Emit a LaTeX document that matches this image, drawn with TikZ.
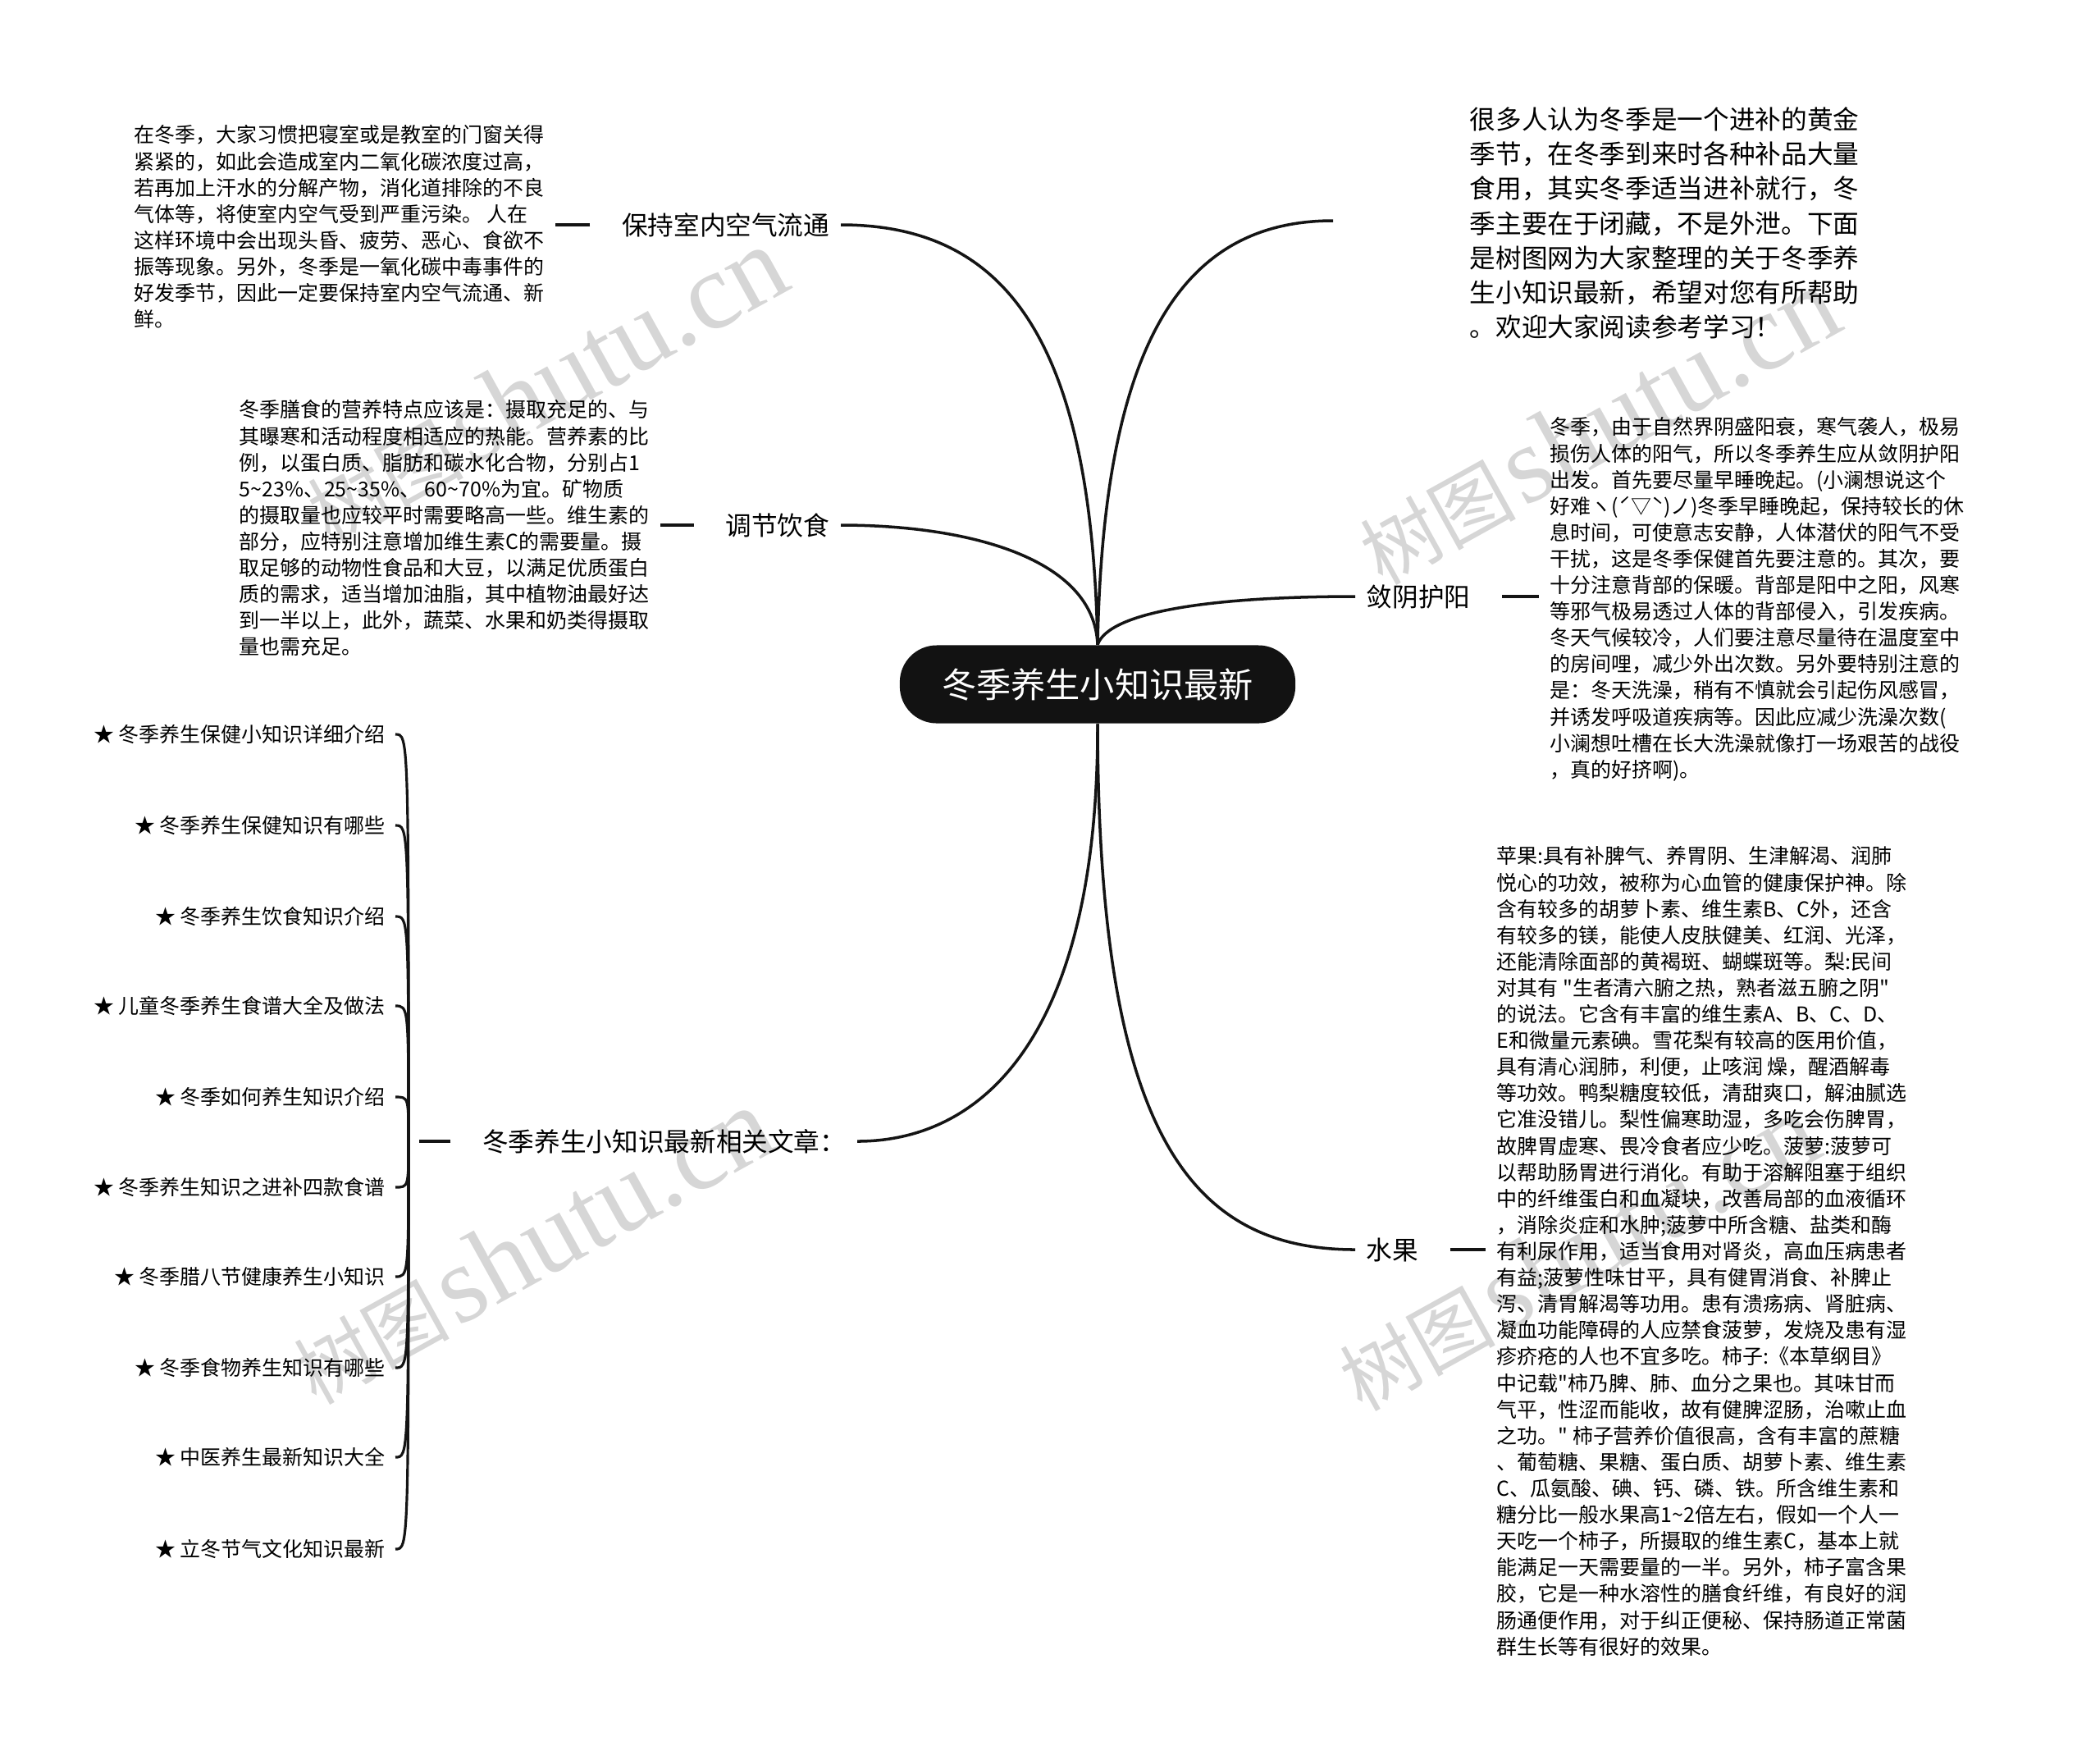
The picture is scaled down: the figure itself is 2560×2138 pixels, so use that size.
\documentclass[tikz,border=0pt]{standalone}
\usepackage{fontspec}
\setmainfont{Noto Sans CJK SC}
\newfontfamily\markfont{Liberation Serif}
\colorlet{branch line}{black!92}
\colorlet{root fill}{black!93}
\colorlet{mark gray}{black!16}
\def\notesize{\fontsize{7.1}{9.13}\selectfont}
\def\wmtext{{\fontsize{27}{27}\selectfont 树图} {\markfont\fontsize{38}{38}\selectfont shutu.cn}}
\tikzset{rootbox/.style={fill=root fill, text=white, rounded corners=0.45cm,
        minimum width=4.82cm, minimum height=0.95cm, inner sep=0pt,
        font=\fontsize{12}{14}\selectfont},
    topic/.style={inner xsep=0.13cm, inner ysep=0pt, font=\fontsize{9}{11}\selectfont},
    note/.style={anchor=north west, inner sep=0pt, align=left, font=\notesize},
    bignote/.style={anchor=north west, inner sep=0pt, align=left,
        font=\fontsize{9}{12}\selectfont},
    article/.style={anchor=east, inner xsep=0.12cm, inner ysep=0pt,
        font=\fontsize{7.1}{9}\selectfont},
    branch/.style={draw=branch line, line width=1pt},
    tie/.style={draw=branch line, line width=1pt, shorten <=0.25cm, shorten >=0.13cm},
    fan/.style={draw=branch line, line width=0.9pt},
    wmark/.style={text=mark gray, rotate=29, inner sep=0pt}}

\begin{document}
\begin{tikzpicture}[x=0.01cm, y=-0.01cm]
    \useasboundingbox (0,0) rectangle (2560,2138);
    % watermarks
    \node[wmark] (wm1) at (665,470)   {\wmtext};
    \node[wmark] (wm2) at (1948,520)  {\wmtext};
    \node[wmark] (wm3) at (648,1519)  {\wmtext};
    \node[wmark] (wm4) at (1923,1527) {\wmtext};

    \node[rootbox] (root) at (1338,834) {冬季养生小知识最新};

    \node[topic, anchor=east] (air)  at (1025,274)  {保持室内空气流通};
    \node[topic, anchor=east] (diet) at (1025,640)  {调节饮食};
    \node[topic, anchor=east] (more) at (1045,1391) {冬季养生小知识最新相关文章：};
    \node[topic, anchor=west] (yin)   at (1652,727)  {敛阴护阳};
    \node[topic, anchor=west] (fruit) at (1652,1523) {水果};
    \coordinate (introtip) at (1625,269);
    \coordinate (fanroot) at (498,1391);

    \node[note] (airtxt) at (163,152) {在冬季，大家习惯把寝室或是教室的门窗关得\\
        紧紧的，如此会造成室内二氧化碳浓度过高，\\
        若再加上汗水的分解产物，消化道排除的不良\\
        气体等，将使室内空气受到严重污染。 人在\\
        这样环境中会出现头昏、疲劳、恶心、食欲不\\
        振等现象。另外，冬季是一氧化碳中毒事件的\\
        好发季节，因此一定要保持室内空气流通、新\\
        鲜。};
    \node[note] (diettxt) at (291,487) {冬季膳食的营养特点应该是：摄取充足的、与\\
        其曝寒和活动程度相适应的热能。营养素的比\\
        例，以蛋白质、脂肪和碳水化合物，分别占1\\
        5\textasciitilde23\%、25\textasciitilde35\%、 60\textasciitilde70\%为宜。矿物质\\
        的摄取量也应较平时需要略高一些。维生素的\\
        部分，应特别注意增加维生素C的需要量。摄\\
        取足够的动物性食品和大豆，以满足优质蛋白\\
        质的需求，适当增加油脂，其中植物油最好达\\
        到一半以上，此外，蔬菜、水果和奶类得摄取\\
        量也需充足。};
    \node[bignote] (intro) at (1791,130) {很多人认为冬季是一个进补的黄金\\
        季节，在冬季到来时各种补品大量\\
        食用，其实冬季适当进补就行，冬\\
        季主要在于闭藏，不是外泄。下面\\
        是树图网为大家整理的关于冬季养\\
        生小知识最新，希望对您有所帮助\\
        。欢迎大家阅读参考学习！};
    \node[note] (yintxt) at (1889,508) {冬季，由于自然界阴盛阳衰，寒气袭人，极易\\
        损伤人体的阳气，所以冬季养生应从敛阴护阳\\
        出发。首先要尽量早睡晚起。(小澜想说这个\\
        好难ヽ(ˊ▽ˋ)ノ)冬季早睡晚起，保持较长的休\\
        息时间，可使意志安静，人体潜伏的阳气不受\\
        干扰，这是冬季保健首先要注意的。其次，要\\
        十分注意背部的保暖。背部是阳中之阳，风寒\\
        等邪气极易透过人体的背部侵入，引发疾病。\\
        冬天气候较冷，人们要注意尽量待在温度室中\\
        的房间哩，减少外出次数。另外要特别注意的\\
        是：冬天洗澡，稍有不慎就会引起伤风感冒，\\
        并诱发呼吸道疾病等。因此应减少洗澡次数(\\
        小澜想吐槽在长大洗澡就像打一场艰苦的战役\\
        ，真的好挤啊)。};
    \node[note] (fruittxt) at (1824,1031) {苹果:具有补脾气、养胃阴、生津解渴、润肺\\
        悦心的功效，被称为心血管的健康保护神。除\\
        含有较多的胡萝卜素、维生素B、C外，还含\\
        有较多的镁，能使人皮肤健美、红润、光泽，\\
        还能清除面部的黄褐斑、蝴蝶斑等。梨:民间\\
        对其有 \textquotedbl 生者清六腑之热，熟者滋五腑之阴\textquotedbl\\
        的说法。它含有丰富的维生素A、B、C、D、\\
        E和微量元素碘。雪花梨有较高的医用价值，\\
        具有清心润肺，利便，止咳润 燥，醒酒解毒\\
        等功效。鸭梨糖度较低，清甜爽口，解油腻选\\
        它准没错儿。梨性偏寒助湿，多吃会伤脾胃，\\
        故脾胃虚寒、畏冷食者应少吃。菠萝:菠萝可\\
        以帮助肠胃进行消化。有助于溶解阻塞于组织\\
        中的纤维蛋白和血凝块，改善局部的血液循环\\
        ，消除炎症和水肿;菠萝中所含糖、盐类和酶\\
        有利尿作用，适当食用对肾炎，高血压病患者\\
        有益;菠萝性味甘平，具有健胃消食、补脾止\\
        泻、清胃解渴等功用。患有溃疡病、肾脏病、\\
        凝血功能障碍的人应禁食菠萝，发烧及患有湿\\
        疹疥疮的人也不宜多吃。柿子:《本草纲目》\\
        中记载\textquotedbl 柿乃脾、肺、血分之果也。其味甘而\\
        气平，性涩而能收，故有健脾涩肠，治嗽止血\\
        之功。\textquotedbl\ 柿子营养价值很高，含有丰富的蔗糖\\
        、葡萄糖、果糖、蛋白质、胡萝卜素、维生素\\
        C、瓜氨酸、碘、钙、磷、铁。所含维生素和\\
        糖分比一般水果高1\textasciitilde2倍左右，假如一个人一\\
        天吃一个柿子，所摄取的维生素C，基本上就\\
        能满足一天需要量的一半。另外，柿子富含果\\
        胶，它是一种水溶性的膳食纤维，有良好的润\\
        肠通便作用，对于纠正便秘、保持肠道正常菌\\
        群生长等有很好的效果。};

    % related articles
    \node[article] (art1)  at (482,895)  {★ 冬季养生保健小知识详细介绍};
    \node[article] (art2)  at (482,1006) {★ 冬季养生保健知识有哪些};
    \node[article] (art3)  at (482,1117) {★ 冬季养生饮食知识介绍};
    \node[article] (art4)  at (482,1226) {★ 儿童冬季养生食谱大全及做法};
    \node[article] (art5)  at (482,1337) {★ 冬季如何养生知识介绍};
    \node[article] (art6)  at (482,1447) {★ 冬季养生知识之进补四款食谱};
    \node[article] (art7)  at (482,1556) {★ 冬季腊八节健康养生小知识};
    \node[article] (art8)  at (482,1667) {★ 冬季食物养生知识有哪些};
    \node[article] (art9)  at (482,1776) {★ 中医养生最新知识大全};
    \node[article] (art10) at (482,1888) {★ 立冬节气文化知识最新};

    % branches
    \draw[branch] (root.north) .. controls (1331,420) and (1230,274) .. (air.east);
    \draw[branch] (root.north) .. controls (1334,680) and (1180,640) .. (diet.east);
    \draw[branch] (root.north) .. controls (1345,420) and (1440,269) .. (introtip);
    \draw[branch] (root.north) .. controls (1352,745) and (1480,727) .. (yin.west);
    \draw[branch] (root.south) .. controls (1339,1260) and (1200,1391) .. (more.east);
    \draw[branch] (root.south) .. controls (1339,1380) and (1450,1523) .. (fruit.west);

    \draw[tie] (air.west) -- (air.west -| airtxt.east);
    \draw[tie] (diet.west) -- (diet.west -| diettxt.east);
    \draw[tie] (yin.east) -- (yin.east -| yintxt.west);
    \draw[tie] (fruit.east) -- (fruit.east -| fruittxt.west);
    \draw[tie] (more.west) -- (fanroot);

    \draw[fan] (fanroot) .. controls (fanroot |- art1.east)  .. (art1.east);
    \draw[fan] (fanroot) .. controls (fanroot |- art2.east)  .. (art2.east);
    \draw[fan] (fanroot) .. controls (fanroot |- art3.east)  .. (art3.east);
    \draw[fan] (fanroot) .. controls (fanroot |- art4.east)  .. (art4.east);
    \draw[fan] (fanroot) .. controls (fanroot |- art5.east)  .. (art5.east);
    \draw[fan] (fanroot) .. controls (fanroot |- art6.east)  .. (art6.east);
    \draw[fan] (fanroot) .. controls (fanroot |- art7.east)  .. (art7.east);
    \draw[fan] (fanroot) .. controls (fanroot |- art8.east)  .. (art8.east);
    \draw[fan] (fanroot) .. controls (fanroot |- art9.east)  .. (art9.east);
    \draw[fan] (fanroot) .. controls (fanroot |- art10.east) .. (art10.east);
\end{tikzpicture}
\end{document}
